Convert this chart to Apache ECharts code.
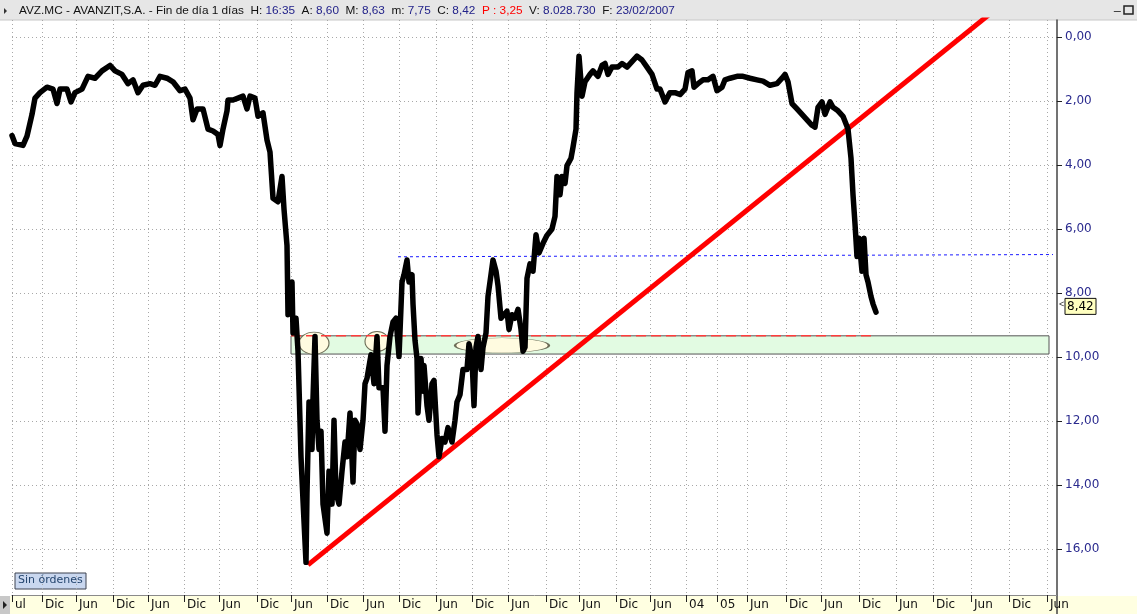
<!DOCTYPE html>
<html>
<head>
<meta charset="utf-8">
<script src="https://cdn.jsdelivr.net/npm/echarts@6/dist/echarts.min.js"></script>
<style>
  html, body { margin: 0; padding: 0; background: #fff; }
  #chart { width: 1137px; height: 614px; }
</style>
</head>
<body>
<div id="chart"></div>
<script>
// position along the time axis (sessions) and close price (axis is inverted)
const priceIdx = [0, 3, 11, 15, 20, 23, 28, 35, 41, 45, 48, 55, 59, 63, 70, 76, 83, 90, 98, 103,
  110, 116, 121, 126, 131, 138, 143, 148, 155, 161, 168, 173, 178, 181, 185, 191, 196, 201, 206, 208,
  211, 215, 216, 221, 226, 231, 235, 238, 243, 246, 251, 255, 258, 261, 266, 270, 272, 275, 276, 280,
  281, 284, 286, 289, 291, 294, 295, 297, 300, 301, 303, 305, 307, 309, 311, 315, 317, 320, 322, 324,
  327, 330, 333, 335, 338, 341, 343, 345, 348, 351, 353, 355, 359, 362, 365, 367, 371, 373, 375, 378,
  381, 384, 387, 390, 392, 395, 397, 400, 401, 403, 405, 406, 409, 411, 412, 415, 417, 420, 422, 425,
  427, 430, 433, 436, 440, 443, 445, 448, 451, 455, 457, 460, 462, 464, 466, 469, 471, 474, 476, 479,
  481, 484, 486, 489, 491, 495, 497, 500, 503, 506, 509, 511, 513, 515, 518, 521, 524, 527, 531, 535,
  540, 543, 545, 548, 550, 553, 555, 559, 561, 564, 565, 567, 569, 570, 573, 578, 581, 586, 590, 593,
  596, 600, 606, 610, 615, 620, 625, 630, 635, 640, 645, 648, 653, 658, 663, 668, 673, 676, 680, 682,
  686, 691, 696, 701, 705, 710, 713, 718, 725, 731, 738, 745, 751, 758, 765, 770, 773, 776, 780, 785,
  790, 795, 800, 803, 806, 810, 813, 818, 821, 826, 831, 836, 839, 841, 843, 845, 847, 850, 852, 854,
  856, 859, 861, 864];
const priceVal = [3.08, 3.33, 3.39, 3.1, 2.42, 1.91, 1.74, 1.57, 1.63, 2.08, 1.63, 1.63, 2.03, 1.74, 1.63, 1.23, 1.29, 1.06, 0.89, 1.06,
  1.17, 1.46, 1.34, 1.74, 1.51, 1.46, 1.51, 1.23, 1.29, 1.4, 1.68, 1.63, 1.91, 2.59, 2.25, 2.25, 2.88, 2.94, 3.05, 3.39,
  2.88, 2.31, 1.97, 1.97, 1.91, 1.85, 2.25, 1.85, 1.91, 2.48, 2.37, 3.22, 3.6, 5.04, 5.15, 4.36, 5.38, 6.52, 8.68, 7.66,
  9.25, 8.79, 9.82, 13.12, 14.48, 16.42, 14.25, 11.41, 12.89, 11.3, 9.36, 11.98, 12.89, 12.32, 14.6, 15.51, 13.57, 14.6, 11.98, 14.25,
  14.6, 13.57, 12.66, 13.12, 11.75, 13.91, 11.98, 12.09, 12.89, 11.98, 10.84, 10.67, 9.93, 10.84, 9.36, 10.96, 10.96, 12.32, 10.27, 9.36,
  8.91, 8.79, 9.99, 7.66, 7.43, 6.97, 7.66, 7.43, 8.34, 9.48, 10.05, 11.75, 10.05, 11.07, 10.27, 11.52, 11.98, 10.84, 10.73, 12.43,
  13.12, 12.55, 12.66, 12.21, 12.66, 11.98, 11.41, 11.18, 10.39, 10.39, 9.59, 10.05, 11.52, 9.7, 9.36, 10.39, 9.7, 9.25, 8.11, 7.43,
  6.97, 7.32, 7.77, 8.79, 8.79, 8.57, 9.14, 8.68, 8.79, 8.51, 9.14, 9.82, 9.7, 7.54, 7.09, 7.32, 6.18, 6.75, 6.45, 6.2,
  6.0, 5.61, 4.36, 4.93, 4.36, 4.58, 4.02, 3.79, 3.45, 2.88, 1.74, 0.6, 1.4, 1.85, 1.4, 1.17, 1.06, 1.23, 0.89, 0.83,
  1.17, 0.94, 0.94, 0.83, 0.94, 0.77, 0.6, 0.72, 0.94, 1.17, 1.63, 1.63, 2.03, 1.74, 1.74, 1.8, 1.63, 1.11, 1.06, 1.57,
  1.46, 1.34, 1.34, 1.23, 1.68, 1.57, 1.34, 1.29, 1.23, 1.23, 1.29, 1.34, 1.38, 1.51, 1.46, 1.29, 1.17, 1.4, 2.08, 2.25,
  2.42, 2.59, 2.76, 2.82, 2.2, 2.03, 2.42, 2.03, 2.2, 2.31, 2.48, 2.88, 3.79, 4.93, 5.84, 6.86, 6.29, 7.32, 6.29, 7.43,
  7.66, 8.11, 8.34, 8.6];

const labelIdx = [0, 30, 64, 101, 136, 172, 207, 245, 279, 315, 351, 387, 424, 460, 496, 534, 567, 604, 638,
  674, 705, 735, 774, 809, 847, 884, 921, 959, 997, 1035];
const labelTxt = ['ul', 'Dic', 'Jun', 'Dic', 'Jun', 'Dic', 'Jun', 'Dic', 'Jun', 'Dic', 'Jun', 'Dic', 'Jun', 'Dic', 'Jun', 'Dic', 'Jun', 'Dic', 'Jun',
  '04', '05', 'Jun', 'Dic', 'Jun', 'Dic', 'Jun', 'Dic', 'Jun', 'Dic', 'Jun'];
const yTicks = [0, 2, 4, 6, 8, 10, 12, 14, 16];

// drawn studies
const trendIdx = [296, 1010];
const trendVal = [16.5, -1.53];
const resistIdx = [386, 1041];
const resistVal = [6.87, 6.8];
const bandIdx = [279, 1037];
const bandVal = [9.34, 9.91];
const bandRedEnd = 862;
const ovalIdx = [302, 365, 490];
const ovalVal = [9.57, 9.52, 9.64];
const lastClose = 8.42;

const pairs = (xs, ys) => xs.map((x, i) => [x, ys[i]]);
const fmt = v => v.toFixed(2).replace('.', ',');

const chart = echarts.init(document.getElementById('chart'));
chart.setOption({
  animation: false,
  backgroundColor: '#fff',
  grid: { left: 12, right: 80, top: 20, bottom: 19 },
  xAxis: {
    type: 'value', min: 0, max: 1045,
    axisLine: { show: true, onZero: false, lineStyle: { color: '#8a8a8a', width: 1 } },
    axisTick: { show: true, customValues: labelIdx, length: 7, lineStyle: { color: '#222' } },
    axisLabel: {
      customValues: labelIdx,
      formatter: v => labelTxt[labelIdx.indexOf(v)],
      align: 'left', padding: [0, 0, 0, 3], margin: 4,
      color: '#111', fontSize: 12, fontFamily: 'DejaVu Sans'
    },
    splitLine: { show: true, lineStyle: { color: '#a8a8a8', type: [1, 3], width: 1 } }
  },
  yAxis: {
    type: 'value', position: 'right', inverse: true, min: -0.53, max: 17.44,
    axisLine: { show: true, onZero: false, lineStyle: { color: '#444', width: 1.5 } },
    axisTick: { show: true, customValues: yTicks, length: 5, lineStyle: { color: '#222' } },
    axisLabel: {
      customValues: yTicks, formatter: fmt, margin: 8,
      color: '#2a2a8e', fontSize: 12, fontFamily: 'DejaVu Sans'
    },
    splitLine: { show: true, lineStyle: { color: '#a8a8a8', type: [1, 3], width: 1 } }
  },
  series: [
    {
      type: 'line', data: [], silent: true,
      markArea: {
        silent: true,
        itemStyle: { color: '#e2fbe2', borderColor: '#555', borderWidth: 1 },
        data: [[{ coord: [bandIdx[0], bandVal[0]] }, { coord: [bandIdx[1], bandVal[1]] }]]
      }
    },
    {
      type: 'line', silent: true, symbol: 'none',
      data: [[bandIdx[0], bandVal[0]], [bandRedEnd, bandVal[0]]],
      lineStyle: { color: '#ff3c3c', width: 1.5, type: [10, 5] }
    },
    {
      type: 'scatter', silent: true,
      data: [
        { value: [ovalIdx[0], ovalVal[0]], symbolSize: [30, 22] },
        { value: [ovalIdx[1], ovalVal[1]], symbolSize: [24, 20] },
        { value: [ovalIdx[2], ovalVal[2]], symbolSize: [94, 15] }
      ],
      itemStyle: { color: '#fffbe0', borderColor: '#6b6b55', borderWidth: 1, opacity: 1 }
    },
    {
      type: 'line', silent: true, symbol: 'none',
      data: pairs(resistIdx, resistVal),
      lineStyle: { color: '#1a1aff', width: 1, type: [3, 3] }
    },
    {
      type: 'line', silent: true, symbol: 'none', clip: true,
      data: pairs(trendIdx, trendVal),
      lineStyle: { color: '#ff0000', width: 5 }
    },
    {
      type: 'line', silent: true, symbol: 'none',
      data: pairs(priceIdx, priceVal),
      lineStyle: { color: '#000', width: 5.5, join: 'round', cap: 'round' }
    }
  ],
  graphic: [
    { type: 'rect', id: 'hdr', shape: { x: 0, y: 0, width: 1137, height: 20 }, style: { fill: '#e6e6e6' }, silent: true },
    { type: 'line', id: 'hdrline', shape: { x1: 0, y1: 20, x2: 1137, y2: 20 }, style: { stroke: '#c8c8c8' }, silent: true },
    { type: 'polygon', id: 'hdrarrow', shape: { points: [[4, 8], [7, 11], [4, 14]] }, style: { fill: '#333' } },
    {
      type: 'text', id: 'hdrtext', x: 19, y: 5,
      style: {
        text: 'AVZ.MC - AVANZIT,S.A. - Fin de día 1 días  H: {v|16:35}  A: {v|8,60}  M: {v|8,63}  m: {v|7,75}  C: {v|8,42}  {r|P : 3,25}  V: {v|8.028.730}  F: {v|23/02/2007}',
        fontSize: 11.8, fontFamily: 'Liberation Sans', fill: '#111',
        rich: {
          v: { fill: '#22228a', fontSize: 11.8, fontFamily: 'Liberation Sans' },
          r: { fill: '#ff0000', fontSize: 11.8, fontFamily: 'Liberation Sans' }
        }
      }
    },
    { type: 'text', id: 'btn1', x: 1114, y: 0, style: { text: '_', fontSize: 12, fill: '#222' } },
    { type: 'rect', id: 'btn2', shape: { x: 1124, y: 6, width: 9, height: 8 }, style: { fill: 'none', stroke: '#222', lineWidth: 1.5 } },
    { type: 'rect', id: 'band', shape: { x: 10, y: 596, width: 1127, height: 18 }, style: { fill: '#ffffe1' }, z: -1, silent: true },
    { type: 'line', id: 'axisext', shape: { x1: 1057, y1: 595, x2: 1057, y2: 614 }, style: { stroke: '#444', lineWidth: 1.5 } },
    { type: 'rect', id: 'bandl', shape: { x: 0, y: 596, width: 10, height: 18 }, style: { fill: '#c8c8c8' } },
    { type: 'polygon', id: 'bandarrow', shape: { points: [[3, 601], [7, 605], [3, 609]] }, style: { fill: '#222' } },
    { type: 'rect', id: 'ordbox', shape: { x: 15, y: 573, width: 71, height: 16 }, style: { fill: '#c9d7ef', stroke: '#3d4250', lineWidth: 1 } },
    { type: 'text', id: 'ordtxt', x: 18, y: 575, style: { text: 'Sin órdenes', fontSize: 11, fontFamily: 'DejaVu Sans', fill: '#24456e' } }
  ]
});

// last close tag on the price scale
const yClose = chart.convertToPixel({ yAxisIndex: 0 }, lastClose);
chart.setOption({
  graphic: [
    { type: 'text', id: 'tagarrow', x: 1059, y: yClose - 6, style: { text: '<', fontSize: 9, fill: '#333' } },
    { type: 'rect', id: 'tagbox', shape: { x: 1065, y: yClose - 8, width: 31, height: 16 }, style: { fill: '#ffffc0', stroke: '#111', lineWidth: 1 } },
    { type: 'text', id: 'tagtxt', x: 1067, y: yClose - 6, style: { text: fmt(lastClose), fontSize: 12, fontFamily: 'DejaVu Sans', fill: '#000' } }
  ]
});
</script>
</body>
</html>
